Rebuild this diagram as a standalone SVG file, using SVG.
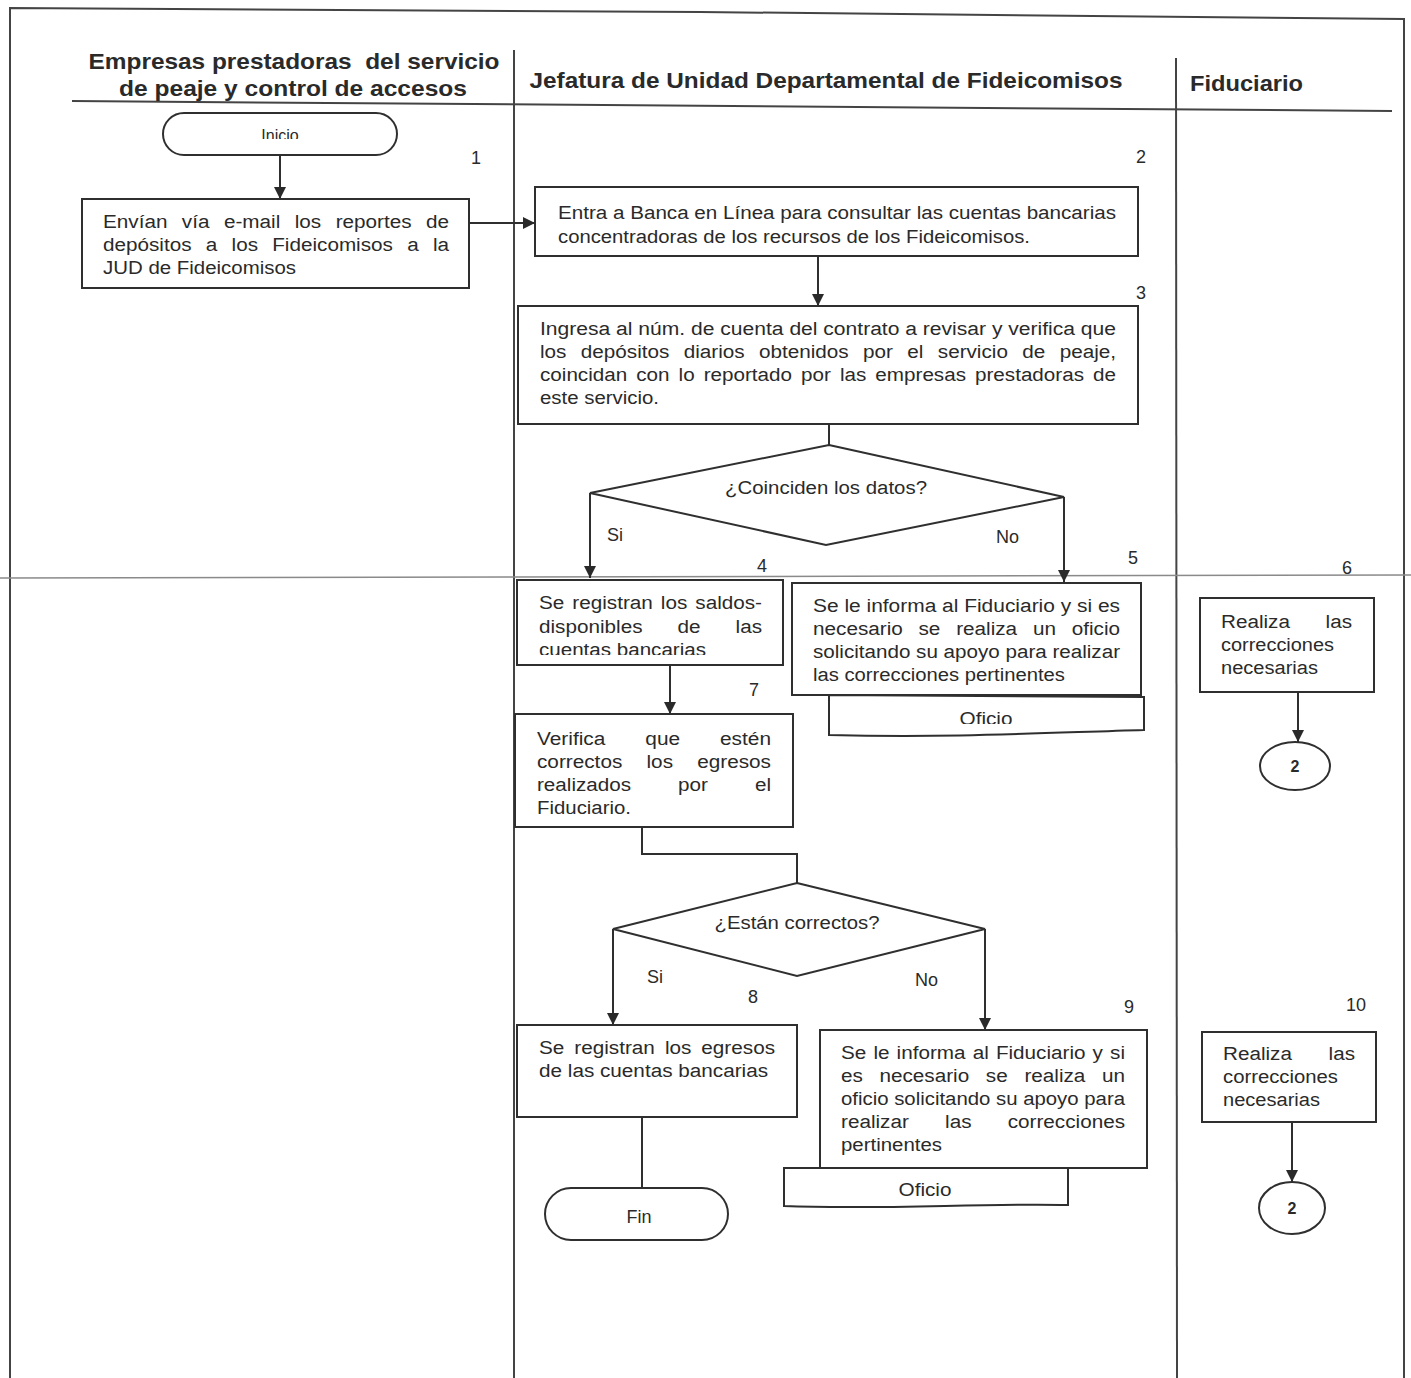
<svg xmlns="http://www.w3.org/2000/svg" width="1411" height="1378" viewBox="0 0 1411 1378">
<defs>
<style>
.ln{fill:none;stroke:#2f2f2f;stroke-width:2}
.bx{fill:#fff;stroke:#2f2f2f;stroke-width:2}
.pg{fill:none;stroke:#444;stroke-width:2}
.t{font-family:"Liberation Sans",Arial,sans-serif;font-size:18px;fill:#2a2a2a}
.h{font-family:"Liberation Sans",Arial,sans-serif;font-size:22px;font-weight:bold;fill:#2a2a2a}
.n{font-family:"Liberation Sans",Arial,sans-serif;font-size:18px;fill:#2a2a2a;text-anchor:middle}
.c{text-anchor:middle}
</style>
<marker id="ah" viewBox="0 0 10 10" refX="10" refY="5" markerWidth="12" markerHeight="13" markerUnits="userSpaceOnUse" orient="auto">
<path d="M0,0 L10,5 L0,10 z" fill="#2a2a2a"/>
</marker>
<clipPath id="clipInicio"><rect x="160" y="110" width="240" height="29"/></clipPath>
<clipPath id="clip4"><rect x="515" y="580" width="270" height="75"/></clipPath>
<clipPath id="clipOf1"><rect x="829" y="697" width="315" height="27"/></clipPath>
</defs>
<rect width="1411" height="1378" fill="#fff"/>
<g id="frame">
<polyline class="pg" points="10,1378 10,8 700,12 1404,19 1404,1378"/>
<line class="pg" x1="514" y1="50" x2="514" y2="1378"/>
<line class="pg" x1="1176" y1="58" x2="1177" y2="1378"/>
<line class="pg" x1="72" y1="101" x2="1392" y2="111"/>
<line x1="0" y1="578" x2="1411" y2="575" stroke="#8a8a8a" stroke-width="1.5"/>
<text class="h c" x="294" y="69" textLength="411" lengthAdjust="spacingAndGlyphs" xml:space="preserve">Empresas prestadoras  del servicio</text>
<text class="h c" x="293" y="96" textLength="348" lengthAdjust="spacingAndGlyphs">de peaje y control de accesos</text>
<text class="h c" x="826" y="88" textLength="593" lengthAdjust="spacingAndGlyphs">Jefatura de Unidad Departamental de Fideicomisos</text>
<text class="h" x="1190" y="91" textLength="113" lengthAdjust="spacingAndGlyphs">Fiduciario</text>
</g>
<g id="connectors">
<line class="ln" x1="280" y1="155" x2="280" y2="199" marker-end="url(#ah)"/>
<line class="ln" x1="469" y1="223" x2="535" y2="223" marker-end="url(#ah)"/>
<line class="ln" x1="818" y1="256" x2="818" y2="306" marker-end="url(#ah)"/>
<line class="ln" x1="829" y1="424" x2="829" y2="445"/>
<polyline class="ln" points="590,493 590,578" marker-end="url(#ah)"/>
<polyline class="ln" points="1064,497 1064,582" marker-end="url(#ah)"/>
<line class="ln" x1="670" y1="665" x2="670" y2="714" marker-end="url(#ah)"/>
<polyline class="ln" points="642,827 642,854 797,854 797,883"/>
<polyline class="ln" points="613,929 613,1025" marker-end="url(#ah)"/>
<polyline class="ln" points="985,929 985,1030" marker-end="url(#ah)"/>
<line class="ln" x1="642" y1="1117" x2="642" y2="1188"/>
<line class="ln" x1="1298" y1="692" x2="1298" y2="742" marker-end="url(#ah)"/>
<line class="ln" x1="1292" y1="1122" x2="1292" y2="1182" marker-end="url(#ah)"/>
<text class="t" x="607" y="541">Si</text>
<text class="t" x="996" y="543">No</text>
<text class="t" x="647" y="983">Si</text>
<text class="t" x="915" y="986">No</text>
</g>
<g id="inicio">
<rect class="bx" x="163" y="113" width="234" height="42" rx="21"/>
<text class="t c" x="280" y="141" clip-path="url(#clipInicio)" style="font-size:16px">Inicio</text>
</g>
<g id="step1">
<text class="n" x="476" y="164">1</text>
<rect class="bx" x="82" y="199" width="387" height="89"/>
<text class="t" x="103" y="228" textLength="346" lengthAdjust="spacingAndGlyphs" style="word-spacing:7.6px">Envían vía e-mail los reportes de</text>
<text class="t" x="103" y="251" textLength="346" lengthAdjust="spacingAndGlyphs" style="word-spacing:7.4px">depósitos a los Fideicomisos a la</text>
<text class="t" x="103" y="274" textLength="193" lengthAdjust="spacingAndGlyphs">JUD de Fideicomisos</text>
</g>
<g id="step2">
<text class="n" x="1141" y="163">2</text>
<rect class="bx" x="535" y="187" width="603" height="69"/>
<text class="t" x="558" y="219" textLength="558" lengthAdjust="spacingAndGlyphs">Entra a Banca en Línea para consultar las cuentas bancarias</text>
<text class="t" x="558" y="243" textLength="472" lengthAdjust="spacingAndGlyphs">concentradoras de los recursos de los Fideicomisos.</text>
</g>
<g id="step3">
<text class="n" x="1141" y="299">3</text>
<rect class="bx" x="518" y="306" width="620" height="118"/>
<text class="t" x="540" y="335" textLength="576" lengthAdjust="spacingAndGlyphs">Ingresa al núm. de cuenta del contrato a revisar y verifica que</text>
<text class="t" x="540" y="358" textLength="576" lengthAdjust="spacingAndGlyphs" style="word-spacing:7.5px">los depósitos diarios obtenidos por el servicio de peaje,</text>
<text class="t" x="540" y="381" textLength="576" lengthAdjust="spacingAndGlyphs" style="word-spacing:2.9px">coincidan con lo reportado por las empresas prestadoras de</text>
<text class="t" x="540" y="404" textLength="119" lengthAdjust="spacingAndGlyphs">este servicio.</text>
</g>
<g id="decision1">
<polygon class="bx" points="829,445 1064,497 826,545 590,493"/>
<text class="t c" x="826" y="494" textLength="202" lengthAdjust="spacingAndGlyphs">¿Coinciden los datos?</text>
</g>
<g id="step4">
<text class="n" x="762" y="572">4</text>
<rect class="bx" x="517" y="580" width="266" height="85"/>
<text class="t" x="539" y="609" textLength="223" lengthAdjust="spacingAndGlyphs" style="word-spacing:2px">Se registran los saldos-</text>
<text class="t" x="539" y="633" textLength="223" lengthAdjust="spacingAndGlyphs" style="word-spacing:25.5px">disponibles de las</text>
<text class="t" x="539" y="656" textLength="167" lengthAdjust="spacingAndGlyphs" clip-path="url(#clip4)">cuentas bancarias</text>
</g>
<g id="step5">
<text class="n" x="1133" y="564">5</text>
<path class="bx" d="M829,695 L1144,697 L1144,730 C1040,733 950,738 829,735 Z"/>
<text class="t c" x="986" y="725" textLength="53" lengthAdjust="spacingAndGlyphs" clip-path="url(#clipOf1)">Oficio</text>
<rect class="bx" x="792" y="583" width="349" height="112"/>
<text class="t" x="813" y="612" textLength="307" lengthAdjust="spacingAndGlyphs">Se le informa al Fiduciario y si es</text>
<text class="t" x="813" y="635" textLength="307" lengthAdjust="spacingAndGlyphs" style="word-spacing:8.7px">necesario se realiza un oficio</text>
<text class="t" x="813" y="658" textLength="307" lengthAdjust="spacingAndGlyphs">solicitando su apoyo para realizar</text>
<text class="t" x="813" y="681" textLength="252" lengthAdjust="spacingAndGlyphs">las correcciones pertinentes</text>
</g>
<g id="step6">
<text class="n" x="1347" y="574">6</text>
<rect class="bx" x="1200" y="598" width="174" height="94"/>
<text class="t" x="1221" y="628" textLength="131" lengthAdjust="spacingAndGlyphs" style="word-spacing:26px">Realiza las</text>
<text class="t" x="1221" y="651" textLength="113" lengthAdjust="spacingAndGlyphs">correcciones</text>
<text class="t" x="1221" y="674" textLength="97" lengthAdjust="spacingAndGlyphs">necesarias</text>
</g>
<g id="connector2a">
<ellipse class="bx" cx="1295" cy="766" rx="35" ry="24"/>
<text class="n" x="1295" y="772" style="font-weight:bold;font-size:16px">2</text>
</g>
<g id="step7">
<text class="n" x="754" y="696">7</text>
<rect class="bx" x="515" y="714" width="278" height="113"/>
<text class="t" x="537" y="745" textLength="234" lengthAdjust="spacingAndGlyphs" style="word-spacing:29.5px">Verifica que estén</text>
<text class="t" x="537" y="768" textLength="234" lengthAdjust="spacingAndGlyphs" style="word-spacing:16px">correctos los egresos</text>
<text class="t" x="537" y="791" textLength="234" lengthAdjust="spacingAndGlyphs" style="word-spacing:36px">realizados por el</text>
<text class="t" x="537" y="814" textLength="94" lengthAdjust="spacingAndGlyphs">Fiduciario.</text>
</g>
<g id="decision2">
<polygon class="bx" points="797,883 985,929 797,976 613,929"/>
<text class="t c" x="797" y="929" textLength="165" lengthAdjust="spacingAndGlyphs">¿Están correctos?</text>
</g>
<g id="step8">
<text class="n" x="753" y="1003">8</text>
<rect class="bx" x="517" y="1025" width="280" height="92"/>
<text class="t" x="539" y="1054" textLength="236" lengthAdjust="spacingAndGlyphs" style="word-spacing:3.7px">Se registran los egresos</text>
<text class="t" x="539" y="1077" textLength="229" lengthAdjust="spacingAndGlyphs">de las cuentas bancarias</text>
</g>
<g id="fin">
<rect class="bx" x="545" y="1188" width="183" height="52" rx="26"/>
<text class="t c" x="639" y="1223">Fin</text>
</g>
<g id="step9">
<text class="n" x="1129" y="1013">9</text>
<path class="bx" d="M784,1168 L1068,1168 L1068,1205 C980,1203 880,1210 784,1206 Z"/>
<text class="t c" x="925" y="1196" textLength="53" lengthAdjust="spacingAndGlyphs">Oficio</text>
<rect class="bx" x="820" y="1030" width="327" height="138"/>
<text class="t" x="841" y="1059" textLength="284" lengthAdjust="spacingAndGlyphs" style="word-spacing:1.2px">Se le informa al Fiduciario y si</text>
<text class="t" x="841" y="1082" textLength="284" lengthAdjust="spacingAndGlyphs" style="word-spacing:9.5px">es necesario se realiza un</text>
<text class="t" x="841" y="1105" textLength="284" lengthAdjust="spacingAndGlyphs">oficio solicitando su apoyo para</text>
<text class="t" x="841" y="1128" textLength="284" lengthAdjust="spacingAndGlyphs" style="word-spacing:26.5px">realizar las correcciones</text>
<text class="t" x="841" y="1151" textLength="101" lengthAdjust="spacingAndGlyphs">pertinentes</text>
</g>
<g id="step10">
<text class="n" x="1356" y="1011">10</text>
<rect class="bx" x="1202" y="1032" width="174" height="90"/>
<text class="t" x="1223" y="1060" textLength="132" lengthAdjust="spacingAndGlyphs" style="word-spacing:27px">Realiza las</text>
<text class="t" x="1223" y="1083" textLength="115" lengthAdjust="spacingAndGlyphs">correcciones</text>
<text class="t" x="1223" y="1106" textLength="97" lengthAdjust="spacingAndGlyphs">necesarias</text>
</g>
<g id="connector2b">
<ellipse class="bx" cx="1292" cy="1208" rx="33" ry="26"/>
<text class="n" x="1292" y="1214" style="font-weight:bold;font-size:16px">2</text>
</g>
</svg>
